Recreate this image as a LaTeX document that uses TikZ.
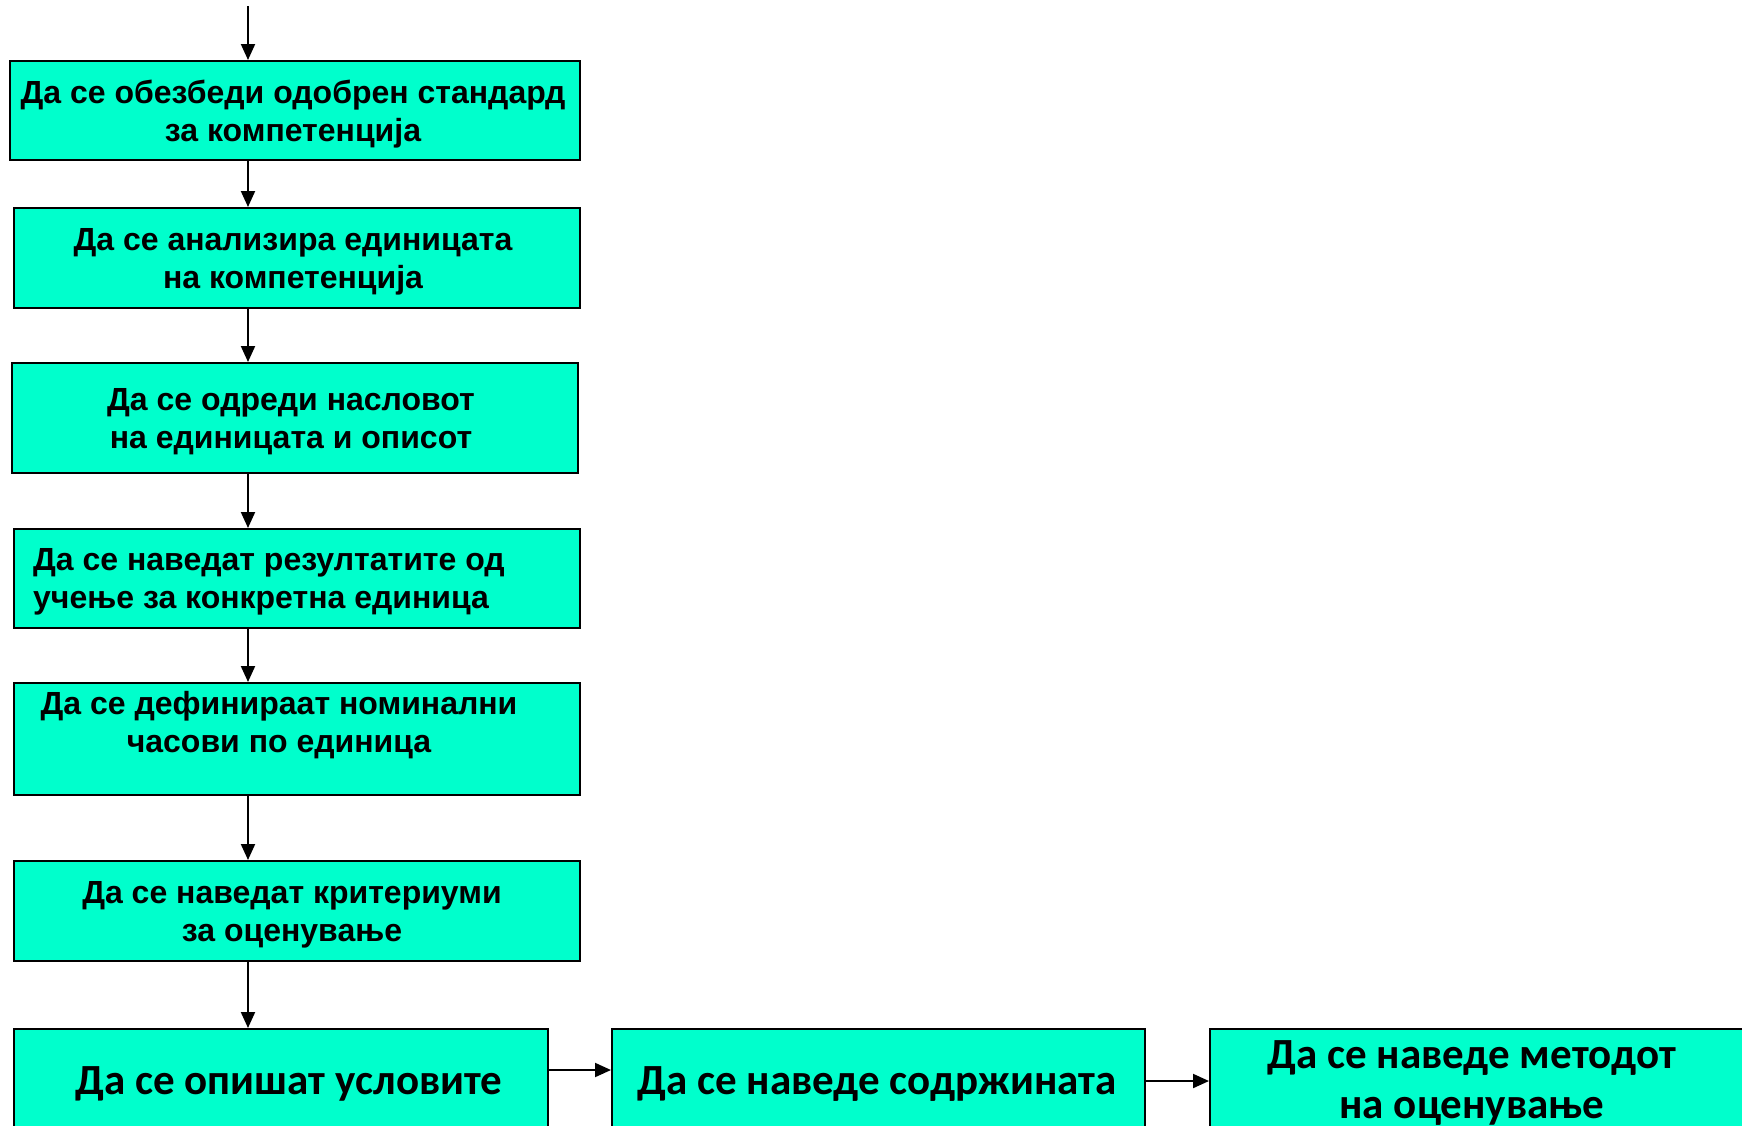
\documentclass[tikz,border=0pt]{standalone}
\usepackage{fontspec}
\setmainfont{Liberation Sans}
\newfontfamily\carl{Carlito}
\usetikzlibrary{arrows.meta}
\definecolor{boxfill}{RGB}{0,255,204}
\begin{document}
\begin{tikzpicture}[x=1pt,y=-1pt,
  box/.style={draw=black, line width=2pt, fill=boxfill, rectangle, inner sep=0pt, anchor=north west},
  lbl/.style={font=\fontsize{32}{38}\selectfont\bfseries, align=center, inner sep=0pt},
  big/.style={font=\carl\fontsize{43}{50}\selectfont\bfseries, align=center, inner sep=0pt},
  arr/.style={line width=2pt, -{Triangle[length=16pt,width=14pt]}}]
\useasboundingbox (0,0) rectangle (1742,1125);
% boxes
\node[box, minimum width=570pt, minimum height=99pt]  (b1) at (9,60) {};
\node[box, minimum width=566pt, minimum height=100pt] (b2) at (13,207) {};
\node[box, minimum width=566pt, minimum height=110pt] (b3) at (11,362) {};
\node[box, minimum width=566pt, minimum height=99pt]  (b4) at (13,528) {};
\node[box, minimum width=566pt, minimum height=112pt] (b5) at (13,682) {};
\node[box, minimum width=566pt, minimum height=100pt] (b6) at (13,860) {};
\node[box, minimum width=534pt, minimum height=120pt] (b7) at (13,1028) {};
\node[box, minimum width=533pt, minimum height=120pt] (b8) at (611,1028) {};
\node[box, minimum width=533pt, minimum height=120pt] (b9) at (1209,1028) {};
% texts
\node[lbl] (t1) at (293,114) {Да се обезбеди одобрен стандард\\за компетенција};
\node[lbl] (t2) at (293,262) {Да се анализира единицата\\на компетенција};
\node[lbl] (t3) at (291,422) {Да се одреди насловот\\на единицата и описот};
\node[lbl, align=left, anchor=west] (t4) at (33,582) {Да се наведат резултатите од\\учење за конкретна единица};
\node[lbl] (t5) at (279,725) {Да се дефинираат номинални\\часови по единица};
\node[lbl] (t6) at (292,915) {Да се наведат критериуми\\за оценување};
\node[big] (t7) at (289,1084) {Да се опишат условите};
\node[big] (t8) at (877,1084) {Да се наведе содржината};
\node[big] (t9) at (1472,1083) {Да се наведе методот\\на оценување};
% connectors
\coordinate (top) at (248,6);
\draw[arr] (top) -- (top |- b1.north);
\draw[arr] (top |- b1.south) -- (top |- b2.north);
\draw[arr] (top |- b2.south) -- (top |- b3.north);
\draw[arr] (top |- b3.south) -- (top |- b4.north);
\draw[arr] (top |- b4.south) -- (top |- b5.north);
\draw[arr] (top |- b5.south) -- (top |- b6.north);
\draw[arr] (top |- b6.south) -- (top |- b7.north);
\coordinate (r1) at (0,1070);
\coordinate (r2) at (0,1081);
\draw[arr] (b7.east |- r1) -- (b8.west |- r1);
\draw[arr] (b8.east |- r2) -- (b9.west |- r2);
\end{tikzpicture}
\end{document}
